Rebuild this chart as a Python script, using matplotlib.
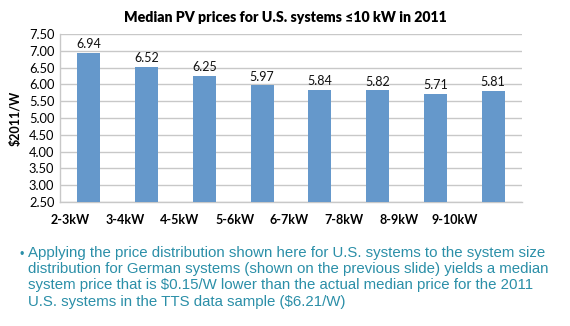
import matplotlib
matplotlib.use("Agg")
import matplotlib.pyplot as plt
import numpy as np

# median installed price by system size bin, 2011 dollars per watt
sizes = ["2-3kW", "3-4kW", "4-5kW", "5-6kW", "6-7kW", "7-8kW", "8-9kW", "9-10kW"]
prices = [6.94, 6.52, 6.25, 5.97, 5.84, 5.82, 5.71, 5.81]
yticks = [2.50, 3.00, 3.50, 4.00, 4.50, 5.00, 5.50, 6.00, 6.50, 7.00, 7.50]

note = ("Applying the price distribution shown here for U.S. systems to the system size\n"
        "distribution for German systems (shown on the previous slide) yields a median\n"
        "system price that is $0.15/W lower than the actual median price for the 2011\n"
        "U.S. systems in the TTS data sample ($6.21/W)")

W, H = 570, 326
fig = plt.figure(figsize=(W / 100, H / 100), dpi=100)
ax = fig.add_axes([60 / W, 1 - 202 / H, 462 / W, (202 - 34) / H])

x = np.arange(len(sizes))
ax.bar(x, prices, width=0.4, color="#6598cb", zorder=3)
for xi, p in zip(x, prices):
    ax.text(xi, p + 0.08, f"{p:.2f}", ha="center", va="bottom",
            fontsize=9, family="Lato", color="#111111")

ax.set_xlim(-0.5, len(sizes) - 0.5)
ax.set_ylim(yticks[0], yticks[-1])
ax.set_yticks(yticks)
ax.set_yticklabels([f"{t:.2f}" for t in yticks], family="Lato", fontsize=9.3)
ax.tick_params(axis="y", length=0, pad=4)
ax.grid(axis="y", color="#c8c8c8", linewidth=1, zorder=0)
ax.set_xticks([])
for s in ["top", "right"]:
    ax.spines[s].set_visible(False)
for s in ["left", "bottom"]:
    ax.spines[s].set_color("#c8c8c8")
    ax.spines[s].set_linewidth(1)

# category labels sit a bit left of the bars
for i, lab in enumerate(sizes):
    ax.text(i * 0.951 - 0.33, -0.105, lab, transform=ax.get_xaxis_transform(),
            ha="center", va="center", fontsize=9, fontweight="bold", family="Lato")

ax.set_ylabel("$2011/W", fontsize=9, fontweight="bold", family="Lato", labelpad=5)
fig.text(285 / W, 1 - 18 / H, "Median PV prices for U.S. systems \u226410 kW in 2011",
         ha="center", va="center", fontsize=10.2, fontweight="heavy", family=["Lato", "DejaVu Sans"])

fig.text(19 / W, 1 - 255 / H, "\u2022", ha="left", va="center",
         fontsize=9, color="#2b8fa8", family="Liberation Sans")
fig.text(28 / W, 1 - 246 / H, note, ha="left", va="top", fontsize=10.8,
         color="#2b8fa8", family="Liberation Sans", linespacing=1.2)

fig.savefig("out.png", dpi=100)
